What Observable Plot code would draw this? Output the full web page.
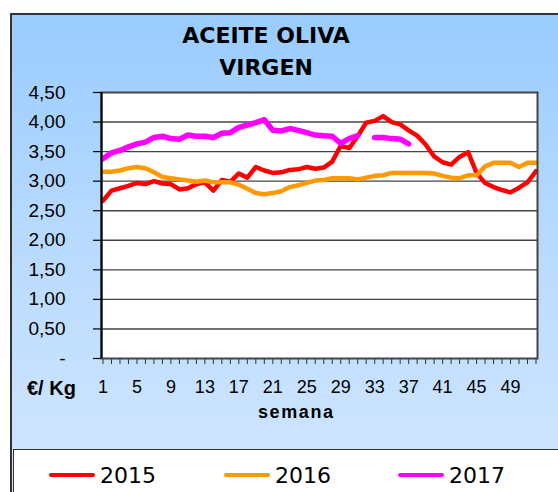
<!DOCTYPE html>
<html>
<head>
<meta charset="utf-8">
<script src="https://cdn.jsdelivr.net/npm/d3@7"></script>
<script src="https://cdn.jsdelivr.net/npm/@observablehq/plot@0.6"></script>
<style>
  html, body { margin: 0; padding: 0; background: #fff; }
  #wrap { position: relative; width: 558px; height: 492px; overflow: hidden; background: #fff; }
  #panel { position: absolute; left: 10px; top: 13px; width: 560px; height: 490px;
    border: 2px solid #333; box-sizing: border-box;
    background: linear-gradient(to bottom, #99CCFF 0%, #B8DAFF 45%, #D2E7FF 100%); }
  #title { position: absolute; left: 0; top: 20px; width: 532px; text-align: center;
    font-family: "DejaVu Sans", Verdana, sans-serif; font-weight: bold; font-size: 22px; line-height: 32px; color: #000; }
  #chart { position: absolute; left: 0; top: 0; }
  .lbl { position: absolute; font-family: "Liberation Sans", Arial, sans-serif; font-weight: bold; color: #000; }
  #legend { position: absolute; left: 13px; top: 449px; width: 560px; height: 60px; background: #fff;
    border: 1px solid #333; box-sizing: border-box; }
  .item { position: absolute; top: 11px; font-family: "DejaVu Sans", Verdana, sans-serif; font-size: 22px; color: #000; line-height: 30px; }
  .sw { display: inline-block; width: 46px; height: 4px; vertical-align: middle; margin-right: 5px; position: relative; top: -2px; border-radius: 2px; }
</style>
</head>
<body>
<div id="wrap">
  <div id="panel"></div>
  <div id="title">ACEITE OLIVA<br>VIRGEN</div>
  <div id="chart"></div>
  <div class="lbl" style="left:27px; top:377px; font-size:20px;">€/ Kg</div>
  <div class="lbl" style="left:258px; top:402px; font-size:18px; letter-spacing:1.6px;">semana</div>
  <div id="legend"></div>
</div>
<script>
const weeks = d3.range(1, 53);
const labelWeeks = [1, 5, 9, 13, 17, 21, 25, 29, 33, 37, 41, 45, 49];
const yTicks = [0, 0.5, 1, 1.5, 2, 2.5, 3, 3.5, 4, 4.5];
const seriesNames = ["2015", "2016", "2017"];
const seriesColors = ["#FF0000", "#FF9900", "#FF00FF"];

const v2015 = [2.67, 2.84, 2.88, 2.92, 2.97, 2.95, 3.00, 2.96, 2.95, 2.86, 2.88, 2.95, 2.98,
  2.84, 3.02, 2.99, 3.13, 3.06, 3.24, 3.18, 3.14, 3.15, 3.19, 3.20, 3.24, 3.21,
  3.23, 3.33, 3.60, 3.56, 3.76, 3.99, 4.02, 4.10, 4.00, 3.96, 3.86, 3.77, 3.62,
  3.42, 3.32, 3.28, 3.41, 3.49, 3.14, 2.97, 2.90, 2.85, 2.81, 2.89, 2.98, 3.17];
const v2016 = [3.16, 3.16, 3.18, 3.22, 3.24, 3.22, 3.15, 3.07, 3.05, 3.03, 3.01, 2.99, 3.01,
  2.98, 2.98, 2.98, 2.94, 2.87, 2.80, 2.78, 2.80, 2.83, 2.90, 2.93, 2.97, 3.01,
  3.02, 3.05, 3.05, 3.05, 3.03, 3.06, 3.09, 3.10, 3.14, 3.14, 3.14, 3.14, 3.14,
  3.13, 3.09, 3.06, 3.05, 3.10, 3.10, 3.25, 3.31, 3.31, 3.31, 3.24, 3.31, 3.31];
const v2017 = [3.38, 3.48, 3.52, 3.58, 3.63, 3.66, 3.74, 3.76, 3.72, 3.71, 3.78, 3.76, 3.76,
  3.74, 3.81, 3.82, 3.91, 3.95, 3.99, 4.04, 3.86, 3.85, 3.89, 3.86, 3.82, 3.78,
  3.77, 3.76, 3.64, 3.72, 3.77, null, 3.74, 3.74, 3.72, 3.71, 3.63,
  null, null, null, null, null, null, null, null, null, null, null, null, null, null, null];

const allValues = [v2015, v2016, v2017];
const rows = [];
seriesNames.forEach((s, i) => {
  weeks.forEach((w, j) => rows.push({ year: s, week: w, value: allValues[i][j] }));
});

const fmt = v => v === 0 ? "-" : d3.format(".2f")(v).replace(".", ",");

const chart = Plot.plot({
  width: 558,
  height: 430,
  marginLeft: 101,
  marginRight: 21,
  marginTop: 92,
  marginBottom: 72,
  style: { background: "transparent", overflow: "visible" },
  x: { domain: [1, 52], insetLeft: 1.5, insetRight: 1.5 },
  y: { domain: [0, 4.5] },
  color: { domain: seriesNames, range: seriesColors },
  marks: [
    Plot.frame({ fill: "white" }),
    Plot.ruleY(yTicks.filter(t => t > 0 && t < 4.5), { stroke: "#444", strokeWidth: 1.4 }),
    Plot.axisY({ ticks: yTicks, tickFormat: fmt, tickSize: 8, tickPadding: 28,
      fontSize: 19, fontFamily: "Liberation Sans, Arial, sans-serif", fill: "#000", stroke: "#000", strokeWidth: 1.2, label: null }),
    Plot.axisX({ ticks: weeks, tickFormat: () => "", tickSize: 6, stroke: "#333", strokeWidth: 1, label: null }),
    Plot.axisX({ ticks: labelWeeks, tickSize: 0, tickPadding: 22, fontSize: 18,
      fontFamily: "Liberation Sans, Arial, sans-serif", fill: "#000", label: null }),
    Plot.line(rows.filter(d => d.year === "2015"), { x: "week", y: "value", stroke: "year", strokeWidth: 4.5, strokeLinejoin: "round", strokeLinecap: "round" }),
    Plot.line(rows.filter(d => d.year === "2016"), { x: "week", y: "value", stroke: "year", strokeWidth: 4.5, strokeLinejoin: "round", strokeLinecap: "round" }),
    Plot.line(rows.filter(d => d.year === "2017"), { x: "week", y: "value", stroke: "year", strokeWidth: 5.5, strokeLinejoin: "round", strokeLinecap: "round" }),
    Plot.frame({ stroke: "#444", strokeWidth: 2 }),
    Plot.ruleX([1], { stroke: "#000", strokeWidth: 2, dx: -1.5 })
  ]
});
document.getElementById("chart").appendChild(chart);

const legend = document.getElementById("legend");
const lefts = [35, 210, 384];
seriesNames.forEach((s, i) => {
  const item = document.createElement("div");
  item.className = "item";
  item.style.left = lefts[i] + "px";
  const sw = document.createElement("span");
  sw.className = "sw";
  sw.style.background = seriesColors[i];
  item.appendChild(sw);
  item.appendChild(document.createTextNode(s));
  legend.appendChild(item);
});
</script>
</body>
</html>
